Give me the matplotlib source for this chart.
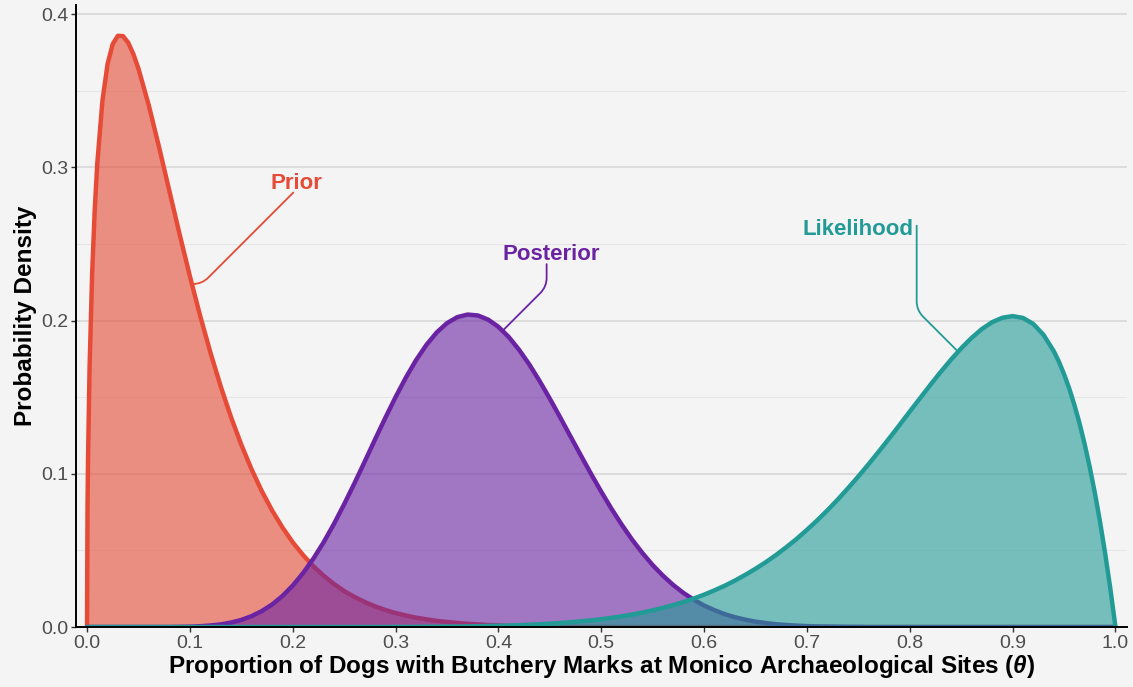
import numpy as np
import matplotlib
matplotlib.use("Agg")
import matplotlib.pyplot as plt
from matplotlib.ticker import MultipleLocator, FormatStrFormatter

plt.rcParams['font.family'] = ['Liberation Sans', 'DejaVu Sans']
plt.rcParams['mathtext.fontset'] = 'custom'
plt.rcParams['mathtext.it'] = 'Liberation Sans:italic:bold'
plt.rcParams['mathtext.rm'] = 'Liberation Sans:bold'

# ---- data ----
# prior needs a finer grid near 0 where it rises steeply
prior_theta = [0.0, 0.0005, 0.001, 0.0025, 0.005, 0.0075, 0.01, 0.015, 0.02, 0.025,
               0.03, 0.035, 0.04, 0.045, 0.05, 0.06, 0.07, 0.08, 0.09, 0.10,
               0.11, 0.12, 0.13, 0.14, 0.15, 0.16, 0.17, 0.18, 0.19, 0.20,
               0.21, 0.22, 0.23, 0.24, 0.25, 0.26, 0.27, 0.28, 0.29, 0.30,
               0.31, 0.32, 0.33, 0.34, 0.35, 0.36, 0.37, 0.38, 0.39, 0.40,
               0.41, 0.42, 0.43, 0.44, 0.45, 0.46, 0.47, 0.48, 0.49, 0.50,
               0.51, 0.52, 1.00]
prior = [0.0, 0.0781, 0.1096, 0.1694, 0.2307, 0.2721, 0.3025, 0.3434, 0.3674, 0.3804,
         0.3858, 0.3856, 0.3814, 0.3740, 0.3644, 0.3406, 0.3133, 0.2848, 0.2564, 0.2290,
         0.2031, 0.1791, 0.1570, 0.1370, 0.1190, 0.1029, 0.0886, 0.0760, 0.0650, 0.0553,
         0.0470, 0.0397, 0.0335, 0.0281, 0.0235, 0.0196, 0.0163, 0.0135, 0.0111, 0.0091,
         0.0075, 0.0061, 0.0050, 0.0040, 0.0033, 0.0026, 0.0021, 0.0017, 0.0013, 0.0010,
         0.0008, 0.0006, 0.0005, 0.0004, 0.0003, 0.0002, 0.0002, 0.0001, 0.0001, 0.0001,
         0.0001, 0.0, 0.0]

# posterior and likelihood share a 0.01 grid from 0 to 1
theta = np.round(np.linspace(0, 1, 101), 2)
posterior = [0.0] * 9 + [
    0.0001, 0.0002, 0.0005, 0.0010, 0.0017, 0.0029, 0.0046, 0.0071, 0.0104, 0.0147,
    0.0202, 0.0270, 0.0351, 0.0445, 0.0552, 0.0671, 0.0801, 0.0937, 0.1079, 0.1223,
    0.1364, 0.1500, 0.1627, 0.1742, 0.1841, 0.1922, 0.1983, 0.2022, 0.2039, 0.2033,
    0.2006, 0.1959, 0.1893, 0.1810, 0.1714, 0.1606, 0.1490, 0.1369, 0.1245, 0.1122,
    0.1000, 0.0883, 0.0771, 0.0667, 0.0570, 0.0483, 0.0404, 0.0335, 0.0274, 0.0222,
    0.0178, 0.0140, 0.0110, 0.0084, 0.0064, 0.0048, 0.0035, 0.0026, 0.0018, 0.0013,
    0.0009, 0.0006, 0.0004, 0.0003, 0.0002, 0.0001, 0.0001] + [0.0] * 25
likelihood = [0.0] * 30 + [
    0.0001, 0.0001, 0.0001, 0.0002, 0.0002, 0.0003, 0.0003, 0.0004, 0.0005, 0.0007,
    0.0008, 0.0010, 0.0012, 0.0015, 0.0018, 0.0022, 0.0026, 0.0031, 0.0037, 0.0043,
    0.0051, 0.0060, 0.0070, 0.0081, 0.0094, 0.0109, 0.0125, 0.0143, 0.0163, 0.0186,
    0.0211, 0.0239, 0.0269, 0.0303, 0.0340, 0.0380, 0.0423, 0.0470, 0.0521, 0.0575,
    0.0634, 0.0696, 0.0762, 0.0832, 0.0906, 0.0983, 0.1063, 0.1146, 0.1231, 0.1318,
    0.1406, 0.1493, 0.1580, 0.1664, 0.1744, 0.1819, 0.1886, 0.1944, 0.1989, 0.2018,
    0.2029, 0.2017, 0.1978, 0.1907, 0.1800, 0.1650, 0.1450, 0.1194, 0.0873, 0.0478,
    0.0]
# extra readings on the steep right flank of the likelihood
lik_extra_theta = [0.945, 0.955, 0.965, 0.975, 0.985, 0.995]
lik_extra = [0.1731, 0.1557, 0.1330, 0.1042, 0.0686, 0.0250]

x_ticks = [0.0, 0.1, 0.2, 0.3, 0.4, 0.5, 0.6, 0.7, 0.8, 0.9, 1.0]
y_ticks = [0.0, 0.1, 0.2, 0.3, 0.4]

bg = '#f4f4f4'
c_prior = '#e64b37'
c_post = '#6a23a2'
c_lik = '#229b96'

lik_theta = np.concatenate([theta, lik_extra_theta])
lik_vals = np.concatenate([likelihood, lik_extra])
order = np.argsort(lik_theta)
lik_theta, lik_vals = lik_theta[order], lik_vals[order]

fig = plt.figure(figsize=(11.33, 6.87), dpi=100, facecolor=bg)
ax = fig.add_axes([76 / 1133, 1 - 627 / 687, (1127 - 76) / 1133, (627 - 5) / 687])
ax.set_facecolor(bg)

series = [
    (prior_theta, prior, c_prior),
    (theta, posterior, c_post),
    (lik_theta, lik_vals, c_lik),
]
z = 1
for xs, ys, col in series:
    ax.fill_between(xs, 0, ys, color=col, alpha=0.6, linewidth=0, zorder=z)
    ax.plot(xs, ys, color=col, linewidth=3.2, solid_capstyle='round', zorder=z + 1)
    z += 2

# labels with connector lines
def label_curve(text, color, text_xy, start, end_x, xs, ys, angle_a, angle_b):
    end = (end_x, float(np.interp(end_x, xs, ys)))
    ax.annotate('', xy=end, xytext=start, zorder=8,
                arrowprops=dict(arrowstyle='-', color=color, lw=1.3,
                                shrinkA=0, shrinkB=0,
                                connectionstyle=f'angle,angleA={angle_a},angleB={angle_b},rad=9'))
    ax.text(text_xy[0], text_xy[1], text, color=color, fontsize=16, fontweight='bold',
            ha='center', va='baseline', zorder=8)

label_curve('Prior', c_prior, (0.2032, 0.2858), (0.2006, 0.2835), 0.102,
            prior_theta, prior, 45, 0)
label_curve('Posterior', c_post, (0.4514, 0.2392), (0.4469, 0.2368), 0.404,
            theta, posterior, 90, 45)
label_curve('Likelihood', c_lik, (0.7499, 0.2560), (0.8067, 0.2619), 0.847,
            lik_theta, lik_vals, 90, -45)

ax.set_xlim(-0.0107, 1.0112)
ax.set_ylim(0, 0.4059)
ax.set_xticks(x_ticks)
ax.set_yticks(y_ticks)
ax.xaxis.set_major_formatter(FormatStrFormatter('%.1f'))
ax.yaxis.set_major_formatter(FormatStrFormatter('%.1f'))
ax.yaxis.set_minor_locator(MultipleLocator(0.05))

ax.set_axisbelow(True)
ax.grid(axis='y', which='major', color='#d5d5d5', linewidth=1.1)
ax.grid(axis='y', which='minor', color='#e6e6e6', linewidth=0.8)
ax.grid(axis='x', visible=False)

ax.tick_params(axis='both', which='major', direction='out', length=3.6, width=1.0,
               color='#333333', labelsize=14, labelcolor='#4d4d4d', pad=2)
ax.tick_params(axis='y', which='minor', length=0)

for side in ['top', 'right']:
    ax.spines[side].set_visible(False)
for side in ['left', 'bottom']:
    ax.spines[side].set_color('black')
    ax.spines[side].set_linewidth(1.4)
    ax.spines[side].set_zorder(10)

ax.set_xlabel(r'Proportion of Dogs with Butchery Marks at Monico Archaeological Sites ($\mathit{θ}$)',
              fontsize=17.5, fontweight='bold', labelpad=1)
ax.set_ylabel('Probability Density', fontsize=17.5, fontweight='bold', labelpad=3)

fig.savefig('out.png', dpi=100, facecolor=bg)
